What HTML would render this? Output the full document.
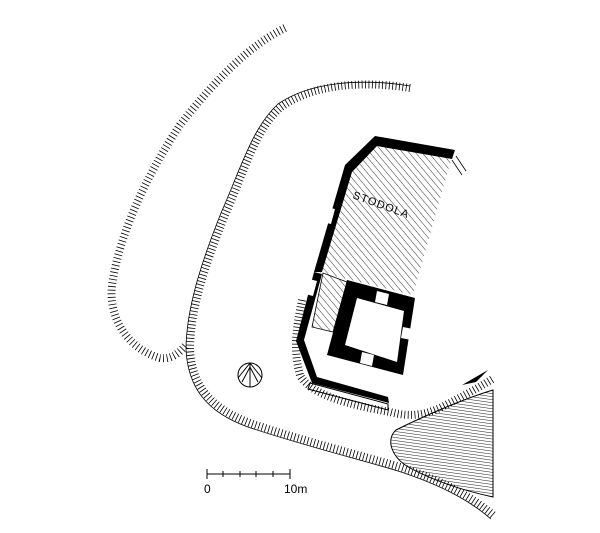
<!DOCTYPE html>
<html><head><style>body{margin:0;background:#fff}svg{display:block}</style></head><body>
<svg width="600" height="533" viewBox="0 0 600 533" xmlns="http://www.w3.org/2000/svg">
<defs>
<pattern id="h1" patternUnits="userSpaceOnUse" width="5" height="5" patternTransform="rotate(-40)"><line x1="0" y1="0" x2="0" y2="5" stroke="#000" stroke-width="0.8"/></pattern>
<pattern id="h2" patternUnits="userSpaceOnUse" width="3" height="3" patternTransform="rotate(8)"><line x1="0" y1="0" x2="3" y2="0" stroke="#000" stroke-width="0.9"/></pattern>
</defs>
<g fill="none" stroke="#000">
<path d="M285,28 C250,45 215,80 180,125 C150,170 120,230 112,285 C108,320 130,350 160,358 C172,360 180,352 186,345" stroke-width="8" stroke-dasharray="0.8 2.8"/>
<path d="M410,88 C360,80 310,85 280,108 C255,130 245,170 225,215 C205,265 190,310 190,350 C192,385 210,408 250,423 C300,440 360,455 400,467 C440,480 470,495 493,515" stroke-width="8" stroke-dasharray="0.8 2.6"/>
<path d="M410,86 C360,78 310,82 278,104 C252,128 241,168 221,213 C201,263 186,310 186,350 C188,387 206,412 248,427 C298,444 358,459 398,471 C438,484 468,499 491,519" stroke-width="0.8"/>
<path d="M302,300 C296,330 293,350 300,375 C310,395 350,405 390,412 C405,416 420,417 440,408 C460,398 478,388 494,378" stroke-width="8" stroke-dasharray="0.8 2.6"/>
<path d="M452,160 L462,175 M456,156 L466,171" stroke-width="0.8"/>
</g>
<path d="M493,390 C460,400 420,418 396,430 C385,440 392,458 410,468 C440,484 470,492 493,497 Z" fill="url(#h2)" stroke="#000" stroke-width="1"/>
<path d="M462,385 L488,370 L476,382 Z" fill="#000"/>
<path d="M375,140 L453,153 L413,295 L318,272 L347,167 Z" fill="url(#h1)"/>
<path d="M375,136 L455,150 L452,159 L377,146 L352,172 L322,272 L314,272 L345,165 Z" fill="#000"/>
<path d="M314,272 L322,274 L304,340 L317,377 L388,397 L389,403 L312,383 L296,341 Z" fill="#000"/>
<path d="M326,207 L335,209 L331,224 L322,222 Z M309,279 L317,281 L313,296 L305,294 Z" fill="#fff"/>
<path d="M310,383 L388,404 L388,410 L308,389 Z" fill="none" stroke="#000" stroke-width="1"/>
<path d="M323,273 L347,282 L333,332 L312,327 Z" fill="url(#h1)" stroke="#000" stroke-width="0.8"/>
<path d="M347,280 L415,298 L403,375 L327,355 Z M357,298 L404,311 L397,362 L345,345 Z" fill="#000" fill-rule="evenodd"/>
<path d="M377,291 L389,294 L387,305 L375,302 Z M403,327 L413,329 L411,340 L401,338 Z M362,352 L374,355 L372,366 L360,363 Z" fill="#fff"/>
<circle cx="250" cy="375" r="12" fill="none" stroke="#000" stroke-width="1"/>
<path d="M238,378 L250,363 L262,378 M242,382 L250,367 L258,382 M250,363 V387" fill="none" stroke="#000" stroke-width="1"/>
<path d="M207,474 H290 M207,469 V479 M290,469 V479 M223,471 V477 M240,471 V477 M256,471 V477 M273,471 V477" stroke="#000" stroke-width="1"/>
<text x="204" y="493" font-family="Liberation Sans, sans-serif" font-size="12">0</text>
<text x="284" y="493" font-family="Liberation Sans, sans-serif" font-size="12">10m</text>
<text x="352" y="198" font-family="Liberation Sans, sans-serif" font-size="11" transform="rotate(20 352 198)" letter-spacing="1">STODOLA</text>
</svg>
</body></html>
